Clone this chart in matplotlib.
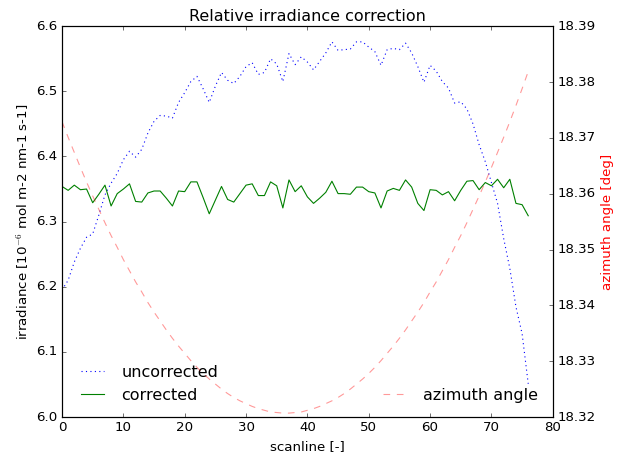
import matplotlib
matplotlib.use('Agg')
import matplotlib.pyplot as plt
import numpy as np

plt.style.use('classic')

scanline = np.arange(77)

uncorrected = [6.195, 6.210, 6.238, 6.259, 6.276, 6.281, 6.310, 6.341, 6.359, 6.374,
               6.395, 6.408, 6.399, 6.411, 6.436, 6.454, 6.463, 6.462, 6.459, 6.483,
               6.498, 6.515, 6.523, 6.504, 6.483, 6.508, 6.529, 6.517, 6.512, 6.523,
               6.538, 6.544, 6.526, 6.529, 6.550, 6.542, 6.515, 6.558, 6.541, 6.553,
               6.545, 6.533, 6.546, 6.559, 6.576, 6.563, 6.564, 6.565, 6.576, 6.576,
               6.568, 6.561, 6.540, 6.564, 6.566, 6.564, 6.574, 6.559, 6.538, 6.514,
               6.540, 6.531, 6.515, 6.505, 6.482, 6.484, 6.473, 6.450, 6.418, 6.392,
               6.360, 6.328, 6.274, 6.228, 6.169, 6.128, 6.051]

corrected = [6.354, 6.348, 6.356, 6.349, 6.350, 6.329, 6.342, 6.356, 6.324, 6.343,
             6.350, 6.358, 6.331, 6.330, 6.344, 6.347, 6.347, 6.336, 6.324, 6.347,
             6.346, 6.361, 6.361, 6.337, 6.312, 6.333, 6.354, 6.334, 6.330, 6.343,
             6.356, 6.358, 6.340, 6.340, 6.361, 6.355, 6.321, 6.364, 6.346, 6.355,
             6.338, 6.328, 6.336, 6.345, 6.362, 6.343, 6.343, 6.342, 6.353, 6.353,
             6.346, 6.344, 6.321, 6.347, 6.351, 6.348, 6.364, 6.353, 6.328, 6.317,
             6.349, 6.348, 6.341, 6.346, 6.332, 6.348, 6.362, 6.363, 6.349, 6.360,
             6.355, 6.365, 6.352, 6.365, 6.328, 6.326, 6.309]

azimuth = [18.3729, 18.3701, 18.3674, 18.3647, 18.3621, 18.3596, 18.3572, 18.3548, 18.3525, 18.3504,
           18.3482, 18.3462, 18.3442, 18.3424, 18.3405, 18.3388, 18.3372, 18.3356, 18.3341, 18.3327,
           18.3314, 18.3301, 18.3289, 18.3278, 18.3268, 18.3259, 18.3250, 18.3242, 18.3235, 18.3229,
           18.3224, 18.3219, 18.3215, 18.3212, 18.3209, 18.3208, 18.3207, 18.3207, 18.3208, 18.3209,
           18.3212, 18.3215, 18.3219, 18.3224, 18.3229, 18.3235, 18.3242, 18.3250, 18.3259, 18.3268,
           18.3278, 18.3289, 18.3301, 18.3314, 18.3327, 18.3341, 18.3356, 18.3372, 18.3388, 18.3405,
           18.3424, 18.3442, 18.3462, 18.3482, 18.3504, 18.3525, 18.3548, 18.3572, 18.3596, 18.3621,
           18.3647, 18.3674, 18.3701, 18.3729, 18.3758, 18.3788, 18.3819]

fig = plt.figure(figsize=(7.775, 5.7), dpi=80)
ax = fig.add_axes([0.0997, 0.0855, 0.789, 0.857])
l1, = ax.plot(scanline, uncorrected, 'b:', label='uncorrected')
l2, = ax.plot(scanline, corrected, 'g-', label='corrected')
ax.set_xlim(0, 80)
ax.set_ylim(6.0, 6.6)
ax.set_xlabel('scanline [-]')
ax.set_ylabel(r'irradiance [10$^{-6}$ mol m-2 nm-1 s-1]')
ax.set_title('Relative irradiance correction')
ax.legend(handles=[l1, l2], loc='lower left', frameon=False)

ax2 = ax.twinx()
ax2.plot(scanline, azimuth, 'r--', alpha=0.4, label='azimuth angle')
ax2.set_ylim(18.32, 18.39)
ax2.yaxis.get_major_formatter().set_useOffset(False)
ax2.set_ylabel('azimuth angle [deg]', color='r')
ax2.legend(loc='lower right', frameon=False)

fig.savefig('out.png', dpi=80)
